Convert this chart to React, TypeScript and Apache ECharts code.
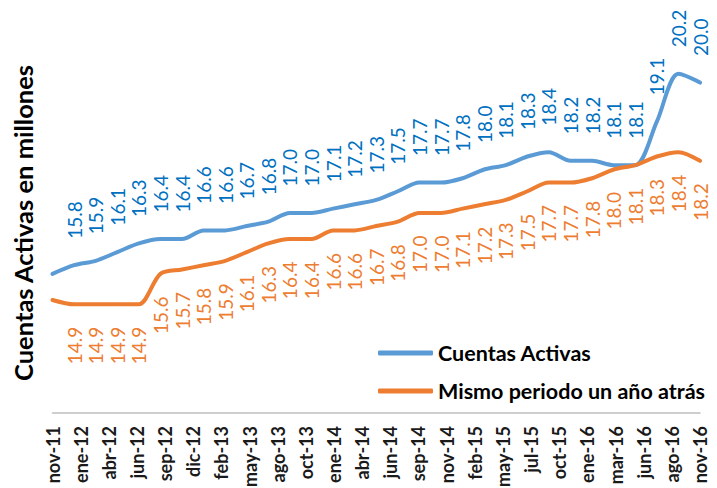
import React, { useEffect, useRef } from "react";
import * as echarts from "echarts";

// Bimonthly observation dates (nov-11 .. nov-16)
const months = [
  "nov-11", "ene-12", "mar-12", "may-12", "jul-12", "sep-12", "nov-12",
  "ene-13", "mar-13", "may-13", "jul-13", "sep-13", "nov-13",
  "ene-14", "mar-14", "may-14", "jul-14", "sep-14", "nov-14",
  "ene-15", "mar-15", "may-15", "jul-15", "sep-15", "nov-15",
  "ene-16", "mar-16", "may-16", "jul-16", "sep-16", "nov-16",
];

// Tick labels shown on the horizontal axis
const tickLabels = [
  "nov-11", "ene-12", "abr-12", "jun-12", "sep-12", "dic-12", "feb-13", "may-13",
  "ago-13", "oct-13", "ene-14", "abr-14", "jun-14", "sep-14", "nov-14", "feb-15",
  "may-15", "jul-15", "oct-15", "ene-16", "mar-16", "jun-16", "ago-16", "nov-16",
];

const cuentasActivas = [
  15.6, 15.8, 15.9, 16.1, 16.3, 16.4, 16.4,
  16.6, 16.6, 16.7, 16.8, 17.0, 17.0,
  17.1, 17.2, 17.3, 17.5, 17.7, 17.7,
  17.8, 18.0, 18.1, 18.3, 18.4, 18.2,
  18.2, 18.1, 18.1, 19.1, 20.2, 20.0,
];

const mismoPeriodo = [
  15.0, 14.9, 14.9, 14.9, 14.9, 15.6, 15.7,
  15.8, 15.9, 16.1, 16.3, 16.4, 16.4,
  16.6, 16.6, 16.7, 16.8, 17.0, 17.0,
  17.1, 17.2, 17.3, 17.5, 17.7, 17.7,
  17.8, 18.0, 18.1, 18.3, 18.4, 18.2,
];

const FONT = "Lato, 'Open Sans', sans-serif";

export default function App() {
  const ref = useRef<HTMLDivElement>(null);

  useEffect(() => {
    if (!ref.current) return;
    const chart = echarts.init(ref.current, undefined, { renderer: "svg" });
    const fmt = (p: any) => (p.dataIndex === 0 ? "" : Number(p.value).toFixed(1));
    chart.setOption({
      animation: false,
      backgroundColor: "#ffffff",
      grid: {
        left: 52.5,
        right: 17,
        top: 13,
        bottom: 75,
        containLabel: false,
        outerBoundsMode: "none",
      },
      xAxis: [
        {
          type: "category",
          data: tickLabels,
          boundaryGap: false,
          axisTick: { show: false },
          axisLine: { lineStyle: { color: "#BFBFBF", width: 1.5 } },
          axisLabel: {
            interval: 0,
            rotate: 90,
            margin: 13,
            fontSize: 18,
            fontWeight: "bold",
            color: "#1a1a1a",
            fontFamily: FONT,
          },
          splitLine: { show: false },
        },
        {
          type: "category",
          data: months,
          boundaryGap: false,
          show: false,
        },
      ],
      yAxis: {
        type: "value",
        min: 12.4,
        max: 21.6,
        show: false,
        splitLine: { show: false },
      },
      legend: {
        orient: "vertical",
        left: 373,
        top: 337,
        itemWidth: 55,
        itemHeight: 5,
        itemGap: 16,
        icon: "roundRect",
        textStyle: {
          fontSize: 21.5,
          lineHeight: 22,
          fontWeight: "bold",
          color: "#000",
          fontFamily: FONT,
        },
        data: ["Cuentas Activas", "Mismo periodo un año atrás"],
      },
      graphic: [
        {
          type: "text",
          x: 23,
          y: 223,
          rotation: Math.PI / 2,
          style: {
            text: "Cuentas Activas en millones",
            fontSize: 25.5,
            fontWeight: "bold",
            fontFamily: FONT,
            fill: "#000",
            align: "center",
            verticalAlign: "middle",
          },
        },
      ],
      series: [
        {
          name: "Cuentas Activas",
          type: "line",
          xAxisIndex: 1,
          data: cuentasActivas,
          symbol: "circle",
          symbolSize: 1,
          showSymbol: true,
          smooth: 0.3,
          color: "#5B9BD5",
          itemStyle: { color: "#5B9BD5" },
          lineStyle: { width: 4, color: "#5B9BD5", cap: "round", join: "round" },
          label: {
            show: true,
            position: "top",
            rotate: 90,
            distance: 26,
            align: "left",
            verticalAlign: "middle",
            fontSize: 19,
            color: "#0070C0",
            fontFamily: FONT,
            formatter: fmt,
          },
        },
        {
          name: "Mismo periodo un año atrás",
          type: "line",
          xAxisIndex: 1,
          data: mismoPeriodo,
          symbol: "circle",
          symbolSize: 1,
          showSymbol: true,
          smooth: 0.3,
          color: "#ED7D31",
          itemStyle: { color: "#ED7D31" },
          lineStyle: { width: 4, color: "#ED7D31", cap: "round", join: "round" },
          label: {
            show: true,
            position: "bottom",
            rotate: 90,
            distance: 22,
            align: "right",
            verticalAlign: "middle",
            fontSize: 19,
            color: "#ED7D31",
            fontFamily: FONT,
            formatter: fmt,
          },
        },
      ],
    });
    return () => chart.dispose();
  }, []);

  return (
    <div
      ref={ref}
      style={{ position: "fixed", left: 0, top: 0, width: 717, height: 488 }}
    />
  );
}
